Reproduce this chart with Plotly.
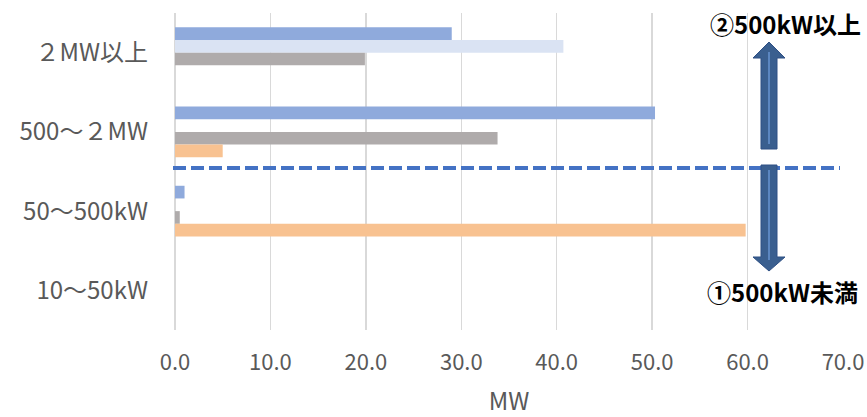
import plotly.graph_objects as go

categories = ["２MW以上", "500〜２MW", "50〜500kW", "10〜50kW"]
series_names = ["系列1", "系列2", "系列3", "系列4"]
series_blue = [29.0, 50.3, 1.0, 0.0]
series_lightblue = [40.7, 0.0, 0.0, 0.0]
series_gray = [19.9, 33.8, 0.5, 0.0]
series_orange = [0.0, 5.0, 59.8, 0.0]
colors = ["#8FAADC", "#DAE3F3", "#AFABAB", "#F8C291"]
x_ticks = [0, 10, 20, 30, 40, 50, 60, 70]

FONT = "Noto Sans CJK JP"
W, H = 867, 417
# plot area in window pixels
X0, X1, Y0, Y1 = 175, 843, 13, 330
ML, MR, MT, MB = X0, W - X1, Y0, H - Y1
PW, PH = X1 - X0, Y1 - Y0

def px(x):
    return (x - X0) / PW

def py(y):
    return (Y1 - y) / PH

fig = go.Figure()
for name, vals, c in zip(series_names, [series_blue, series_lightblue, series_gray, series_orange], colors):
    fig.add_trace(go.Bar(y=categories, x=vals, name=name, orientation="h",
                         marker=dict(color=c, line=dict(width=0))))

shapes = []
shapes.append(dict(type="line", xref="paper", yref="paper", x0=px(173), x1=px(840),
                   y0=py(168), y1=py(168), line=dict(color="#4472C4", width=4, dash="13px,5px")))

cx = 769
def arrow_up(tip, head_end, bottom):
    return (f"M {px(cx)} {py(tip)} L {px(cx+16)} {py(head_end)} L {px(cx+8)} {py(head_end)} "
            f"L {px(cx+8)} {py(bottom)} L {px(cx-8)} {py(bottom)} L {px(cx-8)} {py(head_end)} "
            f"L {px(cx-16)} {py(head_end)} Z")

shapes.append(dict(type="path", xref="paper", yref="paper", path=arrow_up(42, 58, 149),
                   fillcolor="#3A5F8F", line=dict(color="#2F5085", width=1)))
shapes.append(dict(type="path", xref="paper", yref="paper", path=arrow_up(271, 257, 165),
                   fillcolor="#3A5F8F", line=dict(color="#2F5085", width=1)))
shapes.append(dict(type="line", xref="paper", yref="paper", x0=px(cx), x1=px(cx),
                   y0=py(52), y1=py(144), line=dict(color="#5B86C0", width=2)))
shapes.append(dict(type="line", xref="paper", yref="paper", x0=px(cx), x1=px(cx),
                   y0=py(170), y1=py(260), line=dict(color="#5B86C0", width=2)))

annotations = [
    dict(text="<b>②500kW以上</b>", xref="paper", yref="paper", x=px(785), y=py(23),
         showarrow=False, font=dict(family=FONT, size=24, color="#000000"), xanchor="center", yanchor="middle"),
    dict(text="<b>①500kW未満</b>", xref="paper", yref="paper", x=px(782), y=py(291),
         showarrow=False, font=dict(family=FONT, size=24, color="#000000"), xanchor="center", yanchor="middle"),
]

fig.update_layout(
    width=W, height=H,
    margin=dict(l=ML, r=MR, t=MT, b=MB, autoexpand=False),
    paper_bgcolor="white", plot_bgcolor="white",
    barmode="group", bargap=0.36, bargroupgap=0,
    showlegend=False,
    font=dict(family=FONT, color="#595959", size=23),
    shapes=shapes, annotations=annotations,
    xaxis=dict(range=[0, 70], tickvals=x_ticks, tickformat=".1f", automargin=True,
               showgrid=True, gridcolor="#D9D9D9", gridwidth=1.5,
               zeroline=True, zerolinecolor="#D9D9D9", zerolinewidth=1.5,
               showline=False, ticks="", ticklabelstandoff=17,
               title=dict(text="MW", font=dict(size=24, color="#595959"), standoff=24),
               tickfont=dict(size=22, color="#595959")),
    yaxis=dict(autorange="reversed", showgrid=False, ticks="", showline=False, automargin=False,
               ticklabelstandoff=26, tickfont=dict(size=24, color="#595959")),
)

fig.write_html("out.html", config={"displayModeBar": False, "staticPlot": True},
               post_script="document.body.style.margin='0';document.body.style.overflow='hidden';")
